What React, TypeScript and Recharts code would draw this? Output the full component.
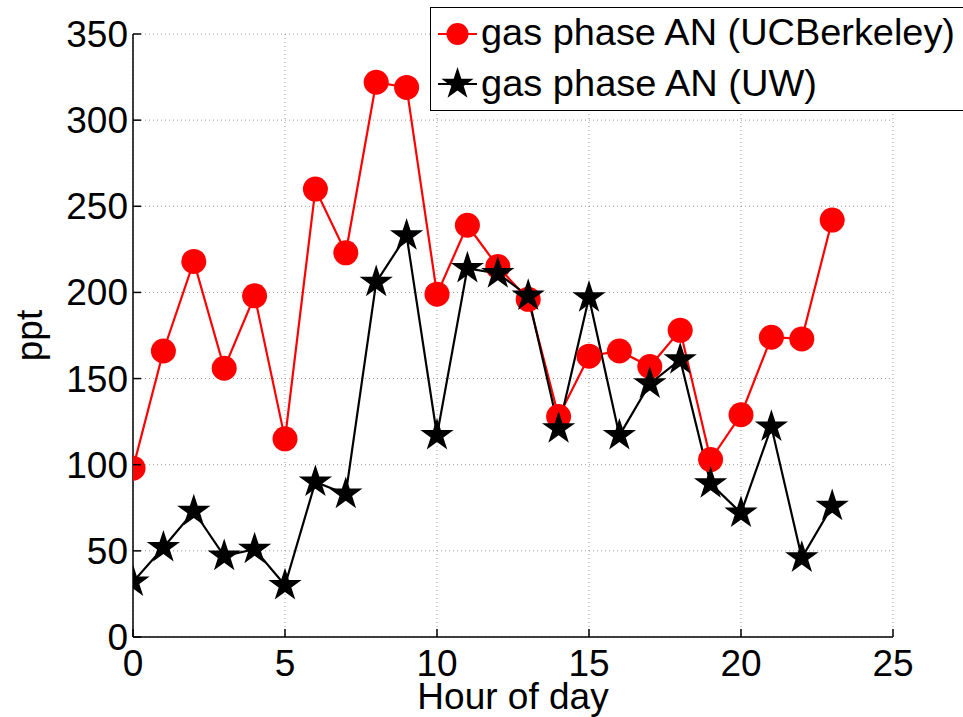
import React from 'react';
import { LineChart, Line, XAxis, YAxis, CartesianGrid, Legend } from 'recharts';

const hours = [0, 1, 2, 3, 4, 5, 6, 7, 8, 9, 10, 11, 12, 13, 14, 15, 16, 17, 18, 19, 20, 21, 22, 23];
const ucBerkeley = [98, 166, 218, 156, 198, 115, 260, 223, 322, 319, 199, 239, 215, 196, 128, 163, 166, 157, 178, 103, 129, 174, 173, 242];
const uw = [32, 52, 73, 47, 51, 30, 90, 83, 206, 233, 117, 214, 211, 198, 121, 197, 117, 147, 161, 89, 72, 122, 46, 76];
const xTicks = [0, 5, 10, 15, 20, 25];
const yTicks = [0, 50, 100, 150, 200, 250, 300, 350];
const seriesNames = ['gas phase AN (UCBerkeley)', 'gas phase AN (UW)'];

const data = hours.map((h, i) => ({ hour: h, ucb: ucBerkeley[i], uw: uw[i] }));

const FONT = '"Liberation Sans", Arial, Helvetica, sans-serif';
const FS = 37;
const TICK = 8;
const AXIS_W = 1.5;

function starPath(cx: number, cy: number, R: number) {
  const r = R * 0.382;
  let d = '';
  for (let i = 0; i < 10; i++) {
    const ang = -Math.PI / 2 + (i * Math.PI) / 5;
    const rad = i % 2 === 0 ? R : r;
    const px = cx + rad * Math.cos(ang);
    const py = cy + rad * Math.sin(ang);
    d += (i === 0 ? 'M' : 'L') + px.toFixed(2) + ',' + py.toFixed(2);
  }
  return d + 'Z';
}

const StarDot = (props: any) => {
  const { cx, cy, index } = props;
  if (cx == null || cy == null) return <g key={'s' + index} />;
  return <path key={'s' + index} d={starPath(cx, cy, 17.5)} fill="#000" stroke="none" />;
};

const CircleDot = (props: any) => {
  const { cx, cy, index } = props;
  if (cx == null || cy == null) return <g key={'c' + index} />;
  return <circle key={'c' + index} cx={cx} cy={cy} r={12.5} fill="#ff0000" stroke="none" />;
};

const BottomTick = (props: any) => {
  const { x, y, payload } = props;
  return (
    <g>
      <line x1={x} y1={y} x2={x} y2={y - TICK} stroke="#000" strokeWidth={AXIS_W} />
      <text x={x} y={y + 39} textAnchor="middle" fontSize={FS} fontFamily={FONT} fill="#000">
        {payload.value}
      </text>
    </g>
  );
};

const TopTick = (props: any) => {
  const { x, y } = props;
  return <line x1={x} y1={y} x2={x} y2={y + TICK} stroke="#000" strokeWidth={AXIS_W} />;
};

const LeftTick = (props: any) => {
  const { x, y, payload } = props;
  return (
    <g>
      <line x1={x} y1={y} x2={x + TICK} y2={y} stroke="#000" strokeWidth={AXIS_W} />
      <text x={x - 5} y={y + 13} textAnchor="end" fontSize={FS} fontFamily={FONT} fill="#000">
        {payload.value}
      </text>
    </g>
  );
};

const RightTick = (props: any) => {
  const { x, y } = props;
  return <line x1={x} y1={y} x2={x - TICK} y2={y} stroke="#000" strokeWidth={AXIS_W} />;
};

const YLabel = (props: any) => {
  const vb = props.viewBox || { x: 0, y: 34, width: 133, height: 603 };
  const x = vb.x + 42;
  const y = vb.y + vb.height / 2;
  return (
    <text
      x={x}
      y={y}
      textAnchor="middle"
      fontSize={FS}
      fontFamily={FONT}
      fill="#000"
      transform={`rotate(-90, ${x}, ${y})`}
    >
      ppt
    </text>
  );
};

const LegendBox = () => (
  <div
    style={{
      boxSizing: 'border-box',
      width: 533,
      height: 104,
      border: '1.5px solid #000',
      borderRight: 'none',
      background: '#fff',
    }}
  >
    <svg width={532} height={101} style={{ display: 'block' }}>
      <line x1={7} y1={26} x2={46} y2={26} stroke="#ff0000" strokeWidth={2.2} />
      <circle cx={26.5} cy={26} r={11} fill="#ff0000" />
      <text x={50} y={37} fontSize={FS} fontFamily={FONT} fill="#000" textLength={474} lengthAdjust="spacingAndGlyphs">
        {seriesNames[0]}
      </text>
      <line x1={7} y1={76} x2={46} y2={76} stroke="#000" strokeWidth={2.2} />
      <path d={starPath(26.5, 76, 17)} fill="#000" />
      <text x={50} y={88} fontSize={FS} fontFamily={FONT} fill="#000" textLength={336} lengthAdjust="spacingAndGlyphs">
        {seriesNames[1]}
      </text>
    </svg>
  </div>
);

export default function App() {
  return (
    <div style={{ position: 'absolute', left: 0, top: 0, width: 963, height: 717, background: '#fff' }}>
      <LineChart width={963} height={717} data={data} margin={{ top: 34, right: 70, bottom: 0, left: 0 }}>
        <CartesianGrid stroke="#9a9a9a" strokeDasharray="1 3" strokeWidth={1} />
        <XAxis
          dataKey="hour"
          type="number"
          domain={[0, 25]}
          ticks={xTicks}
          allowDataOverflow
          height={80}
          tickSize={0}
          tickMargin={0}
          tickLine={false}
          axisLine={{ stroke: '#000', strokeWidth: AXIS_W }}
          tick={<BottomTick />}
          interval={0}
          label={{ value: 'Hour of day', position: 'insideBottom', offset: 8, fontSize: FS, fontFamily: FONT, fill: '#000' }}
        />
        <XAxis
          xAxisId="top"
          orientation="top"
          type="number"
          domain={[0, 25]}
          ticks={xTicks}
          allowDataOverflow
          height={0}
          tickSize={0}
          tickMargin={0}
          tickLine={false}
          axisLine={{ stroke: '#000', strokeWidth: AXIS_W }}
          tick={<TopTick />}
          interval={0}
        />
        <YAxis
          type="number"
          domain={[0, 350]}
          ticks={yTicks}
          allowDataOverflow
          width={133}
          tickSize={0}
          tickMargin={0}
          tickLine={false}
          axisLine={{ stroke: '#000', strokeWidth: AXIS_W }}
          tick={<LeftTick />}
          interval={0}
          label={<YLabel />}
        />
        <YAxis
          yAxisId="right"
          orientation="right"
          type="number"
          domain={[0, 350]}
          ticks={yTicks}
          allowDataOverflow
          width={0}
          tickSize={0}
          tickMargin={0}
          tickLine={false}
          axisLine={{ stroke: '#000', strokeWidth: AXIS_W }}
          tick={<RightTick />}
          interval={0}
        />
        <Line
          dataKey="ucb"
          name={seriesNames[0]}
          stroke="#ff0000"
          strokeWidth={2.2}
          dot={CircleDot}
          activeDot={false}
          isAnimationActive={false}
        />
        <Line
          dataKey="uw"
          name={seriesNames[1]}
          stroke="#000000"
          strokeWidth={2.2}
          dot={StarDot}
          activeDot={false}
          isAnimationActive={false}
        />
        <Legend
          layout="vertical"
          align="center"
          verticalAlign="middle"
          content={<LegendBox />}
          wrapperStyle={{ position: 'absolute', left: 430, top: 7, width: 533, height: 104 }}
        />
      </LineChart>
    </div>
  );
}
